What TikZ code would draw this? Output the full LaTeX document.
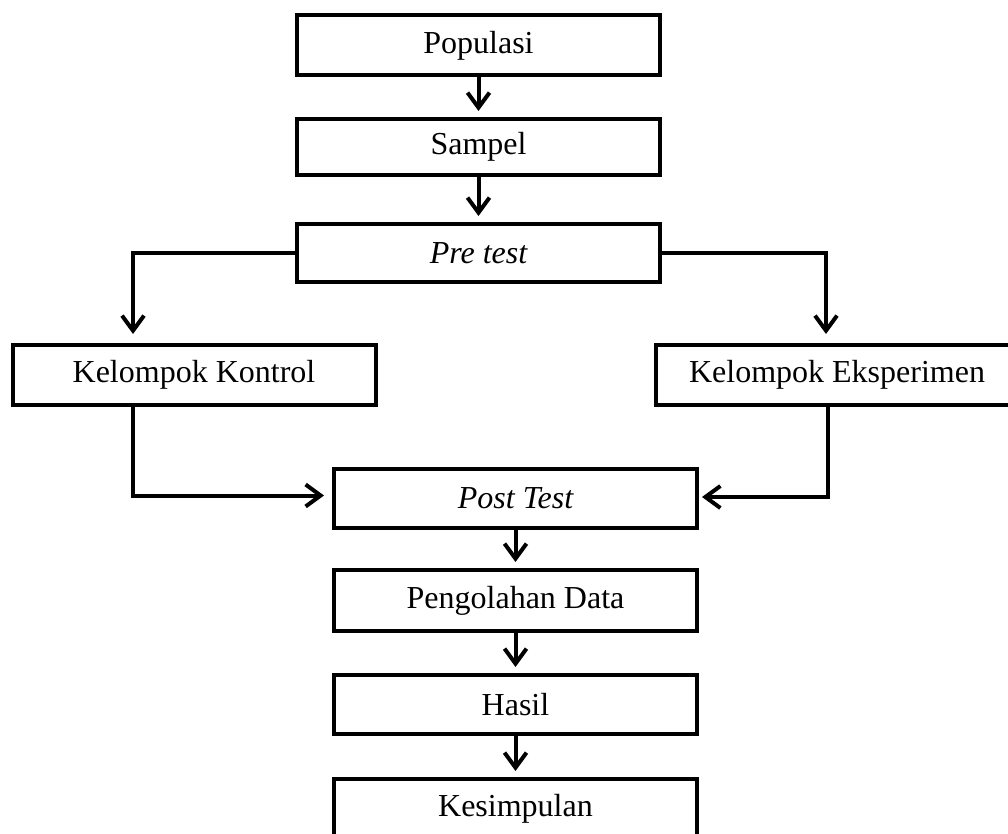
\documentclass[tikz,border=0pt]{standalone}
\usepackage{fontspec}
\setmainfont{Liberation Serif}
\usetikzlibrary{arrows.meta}
\begin{document}
\begin{tikzpicture}[x=1pt,y=-1pt,
  box/.style={draw=black, line width=4pt, fill=white, inner sep=0pt,
    minimum width=363pt, minimum height=60pt,
    font=\fontsize{32}{38}\selectfont},
  conn/.style={line width=4pt, line join=miter,
    -{Straight Barb[length=15pt,width=22pt,line width=4pt]}, shorten >=6pt}
]
\useasboundingbox (0,0) rectangle (1008,834);
\clip (0,0) rectangle (1008,834);
\fill[white] (0,0) rectangle (1008,834);

\node[box] (pop) at (478.5,45.5) {Populasi};
\node[box, minimum height=56pt] (samp) at (478.5,147) {Sampel};
\node[box, minimum height=58pt] (pre) at (478.5,253) {\itshape Pre test};
\node[box] (kon) at (194,375) {Kelompok Kontrol};
\node[box] (eks) at (837,375) {Kelompok Eksperimen};
\node[box, minimum height=59pt] (post) at (515.5,498.5) {\itshape Post Test};
\node[box, minimum height=61pt] (olah) at (515.5,600.5) {Pengolahan Data};
\node[box, minimum height=59pt] (has) at (515.5,704.5) {Hasil};
\node[box] (kes) at (515.5,809) {Kesimpulan};

\draw[conn] (pop) -- (samp);
\draw[conn] (samp) -- (pre);
\draw[conn, shorten >=9pt] (pre.west) -| ([xshift=-61pt]kon.north);
\draw[conn, shorten >=9pt] (pre.east) -| ([xshift=-11pt]eks.north);
\draw[conn, shorten >=8pt] ([xshift=-61pt]kon.south) |- ([yshift=3pt]post.west);
\draw[conn, shorten >=3pt] ([xshift=-9pt]eks.south) |- ([yshift=1.5pt]post.east);
\draw[conn] (post) -- (olah);
\draw[conn] (olah) -- (has);
\draw[conn] (has) -- (kes);
\end{tikzpicture}
\end{document}
